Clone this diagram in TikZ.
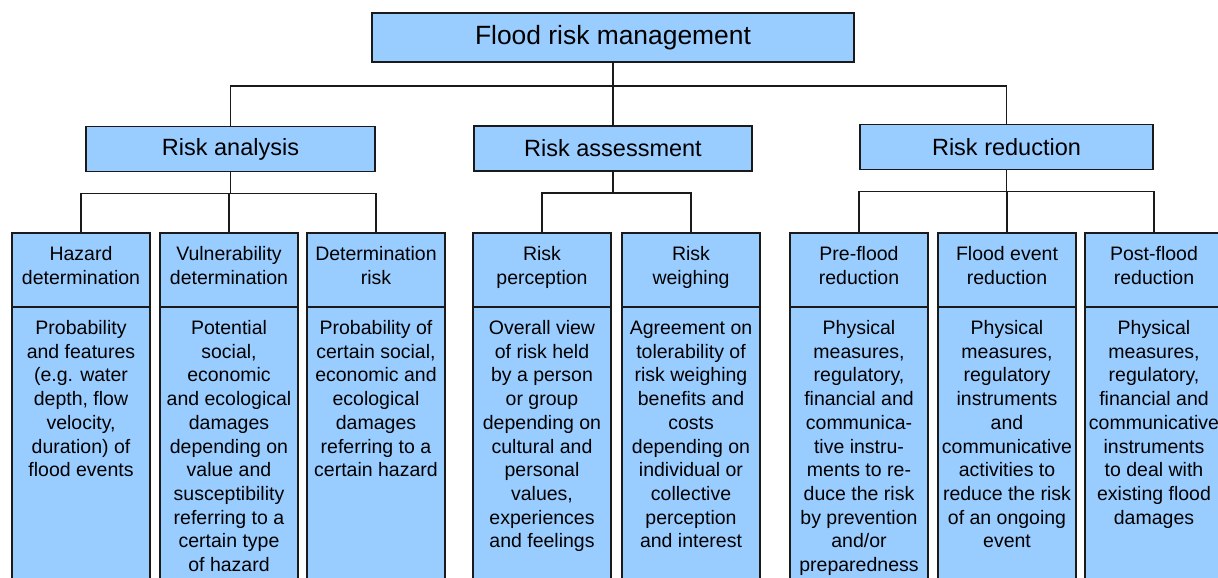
\documentclass[tikz,border=0pt]{standalone}
\usepackage{xcolor}
\usepackage{fontspec}
\setmainfont{Liberation Sans}
\usepackage{tikz}
\usetikzlibrary{positioning}
\definecolor{boxblue}{HTML}{99CCFF}
\definecolor{edgeblack}{HTML}{1A1A1A}
\newcommand{\colbox}[2]{\parbox[t][#1][t]{134pt}{\centering\rule{0pt}{27.5pt}#2}}
\tikzstyle{mainbox} = [rectangle, draw=edgeblack, fill=boxblue, line width=1.3pt,
    outer sep=0pt]
\tikzstyle{topbox} = [mainbox, minimum width=482pt, minimum height=49pt,
    font=\fontsize{26.4pt}{30pt}\selectfont]
\tikzstyle{groupbox} = [mainbox, minimum height=45pt,
    font=\fontsize{23.5pt}{27pt}\selectfont]
\tikzstyle{colhead} = [mainbox, inner xsep=2pt, inner ysep=0pt,
    font=\fontsize{19.5pt}{23.7pt}\selectfont]
\tikzstyle{link} = [draw=edgeblack, line width=1.3pt]

\begin{document}
\begin{tikzpicture}[x=1pt, y=1pt]
\useasboundingbox (0,0) rectangle (1218,-578);
\clip (0,0) rectangle (1218,-578);
    % place the nodes
    \node [topbox] (frm) at (613,-37.5) {Flood risk management};
    \node [groupbox, minimum width=289pt] (ra) at (230.5,-149) {Risk analysis};
    \node [groupbox, minimum width=278pt] (ras) at (613,-148.5) {Risk assessment};
    \node [groupbox, minimum width=293pt] (rr) at (1006.5,-147) {Risk reduction};

    \node [colhead, anchor=north] (hz) at (81,-233) {\colbox{74pt}{Hazard\\determination}};
    \node [colhead, right=10pt of hz] (vu) {\colbox{74pt}{Vulnerability\\determination}};
    \node [colhead, right=9pt of vu] (dr) {\colbox{74pt}{Determination\\risk}};
    \node [colhead, right=28pt of dr] (rp) {\colbox{74pt}{Risk\\perception}};
    \node [colhead, right=11pt of rp] (rw) {\colbox{74pt}{Risk\\weighing}};
    \node [colhead, right=30pt of rw] (pf) {\colbox{74pt}{Pre-flood\\reduction}};
    \node [colhead, right=10pt of pf] (fe) {\colbox{74pt}{Flood event\\reduction}};
    \node [colhead, right=9pt of fe] (pof) {\colbox{74pt}{Post-flood\\reduction}};

    \node [colhead, anchor=north] (hzb) at (hz.south) {\colbox{300pt}{Probability\\and features\\(e.g. water\\depth, flow\\velocity,\\duration) of\\flood events}};
    \node [colhead, anchor=north] (vub) at (vu.south) {\colbox{300pt}{Potential\\social,\\economic\\and ecological\\damages\\depending on\\value and\\susceptibility\\referring to a\\certain type\\of hazard}};
    \node [colhead, anchor=north] (drb) at (dr.south) {\colbox{300pt}{Probability of\\certain social,\\economic and\\ecological\\damages\\referring to a\\certain hazard}};
    \node [colhead, anchor=north] (rpb) at (rp.south) {\colbox{300pt}{Overall view\\of risk held\\by a person\\or group\\depending on\\cultural and\\personal\\values,\\experiences\\and feelings}};
    \node [colhead, anchor=north] (rwb) at (rw.south) {\colbox{300pt}{Agreement on\\tolerability of\\risk weighing\\benefits and\\costs\\depending on\\individual or\\collective\\perception\\and interest}};
    \node [colhead, anchor=north] (pfb) at (pf.south) {\colbox{300pt}{Physical\\measures,\\regulatory,\\financial and\\communica-\\tive instru-\\ments to re-\\duce the risk\\by prevention\\and/or\\preparedness}};
    \node [colhead, anchor=north] (feb) at (fe.south) {\colbox{300pt}{Physical\\measures,\\regulatory\\instruments\\and\\communicative\\activities to\\reduce the risk\\of an ongoing\\event}};
    \node [colhead, anchor=north] (pofb) at (pof.south) {\colbox{300pt}{Physical\\measures,\\regulatory,\\financial and\\communicative\\instruments\\to deal with\\existing flood\\damages}};

    % draw the edges
    \path [link] (frm.south) -- ++(0,-24) -| (ra.north);
    \path [link] (frm.south) -- (ras.north);
    \path [link] (frm.south) -- ++(0,-24) -| (rr.north);

    \path [link] (ra.south) -- ++(0,-22) -| (hz.north);
    \path [link] (ra.south) -- ++(0,-22) -| (vu.north);
    \path [link] (ra.south) -- ++(0,-22) -| (dr.north);
    \path [link] (ras.south) -- ++(0,-22) -| (rp.north);
    \path [link] (ras.south) -- ++(0,-22) -| (rw.north);
    \path [link] (rr.south) -- ++(0,-22) -| (pf.north);
    \path [link] (rr.south) -- ++(0,-22) -| (fe.north);
    \path [link] (rr.south) -- ++(0,-22) -| (pof.north);
\end{tikzpicture}
\end{document}
